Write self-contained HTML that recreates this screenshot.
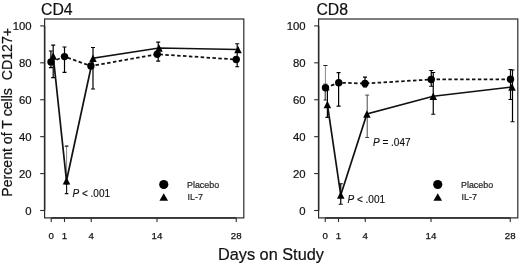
<!DOCTYPE html>
<html><head><meta charset="utf-8"><title>chart</title>
<style>
html,body{margin:0;padding:0;background:#fff;}
body{width:520px;height:265px;overflow:hidden;font-family:"Liberation Sans",sans-serif;}
svg{display:block;font-family:"Liberation Sans",sans-serif;filter:blur(0.4px);}
</style></head><body>
<svg width="520" height="265" viewBox="0 0 520 265">
<rect width="520" height="265" fill="#fff"/>
<g transform="translate(0,0)">
<rect x="44.6" y="19" width="199.2" height="198.9" fill="none" stroke="#2a2a2a" stroke-width="1.2"/>
<path d="M51.25 217.9H236.25M44.6 25.9V210.5" stroke="#2a2a2a" stroke-width="1.5" fill="none"/>
<line x1="40.2" x2="44.5" y1="210.50" y2="210.50" stroke="#2a2a2a" stroke-width="1.1"/>
<text transform="translate(31.6,215.45) scale(1.03,1)" text-anchor="end" font-size="11" fill="#111" stroke="#111" stroke-width="0.2">0</text>
<line x1="40.2" x2="44.5" y1="173.58" y2="173.58" stroke="#2a2a2a" stroke-width="1.1"/>
<text transform="translate(31.6,178.43) scale(1.03,1)" text-anchor="end" font-size="11" fill="#111" stroke="#111" stroke-width="0.2">20</text>
<line x1="40.2" x2="44.5" y1="136.66" y2="136.66" stroke="#2a2a2a" stroke-width="1.1"/>
<text transform="translate(31.6,141.11) scale(1.03,1)" text-anchor="end" font-size="11" fill="#111" stroke="#111" stroke-width="0.2">40</text>
<line x1="40.2" x2="44.5" y1="99.74" y2="99.74" stroke="#2a2a2a" stroke-width="1.1"/>
<text transform="translate(31.6,103.99) scale(1.03,1)" text-anchor="end" font-size="11" fill="#111" stroke="#111" stroke-width="0.2">60</text>
<line x1="40.2" x2="44.5" y1="62.82" y2="62.82" stroke="#2a2a2a" stroke-width="1.1"/>
<text transform="translate(31.6,67.17) scale(1.03,1)" text-anchor="end" font-size="11" fill="#111" stroke="#111" stroke-width="0.2">80</text>
<line x1="40.2" x2="44.5" y1="25.90" y2="25.90" stroke="#2a2a2a" stroke-width="1.1"/>
<text transform="translate(31.6,29.95) scale(1.03,1)" text-anchor="end" font-size="11" fill="#111" stroke="#111" stroke-width="0.2">100</text>
<line x1="51.25" x2="51.25" y1="217.9" y2="222" stroke="#2a2a2a" stroke-width="1.1"/>
<text x="51.25" y="239.4" text-anchor="middle" font-size="9.7" fill="#111" stroke="#111" stroke-width="0.25">0</text>
<line x1="64.5" x2="64.5" y1="217.9" y2="222" stroke="#2a2a2a" stroke-width="1.1"/>
<text x="64.5" y="239.4" text-anchor="middle" font-size="9.7" fill="#111" stroke="#111" stroke-width="0.25">1</text>
<line x1="91.25" x2="91.25" y1="217.9" y2="222" stroke="#2a2a2a" stroke-width="1.1"/>
<text x="91.25" y="239.4" text-anchor="middle" font-size="9.7" fill="#111" stroke="#111" stroke-width="0.25">4</text>
<line x1="157" x2="157" y1="217.9" y2="222" stroke="#2a2a2a" stroke-width="1.1"/>
<text x="157" y="239.4" text-anchor="middle" font-size="9.7" fill="#111" stroke="#111" stroke-width="0.25">14</text>
<line x1="236.25" x2="236.25" y1="217.9" y2="222" stroke="#2a2a2a" stroke-width="1.1"/>
<text x="236.25" y="239.4" text-anchor="middle" font-size="9.7" fill="#111" stroke="#111" stroke-width="0.25">28</text>
<text x="41" y="14.7" font-size="15.8" fill="#111" stroke="#111" stroke-width="0.2">CD4</text>
<path d="M50.90 51.00V67.70M48.90 51.00H52.90M48.90 67.70H52.90" stroke="#000" stroke-width="1.2" fill="none"/>
<path d="M53.20 45.20V77.70M51.20 45.20H55.20M51.20 77.70H55.20" stroke="#000" stroke-width="1.2" fill="none"/>
<path d="M64.50 47.00V72.30M62.50 47.00H66.50M62.50 72.30H66.50" stroke="#000" stroke-width="1.2" fill="none"/>
<path d="M66.60 146.10V178.00M66.60 146.10H66.60M66.60 178.00H66.60" stroke="#666" stroke-width="0.8" fill="none"/>
<path d="M66.60 146.10V146.10M64.80 146.10H68.40M64.80 146.10H68.40" stroke="#111" stroke-width="1.2" fill="none"/>
<path d="M66.60 184.00V193.60M64.80 184.00H68.40M64.80 193.60H68.40" stroke="#111" stroke-width="1.1" fill="none"/>
<path d="M93.00 47.50V89.00M91.00 47.50H95.00M91.00 89.00H95.00" stroke="#000" stroke-width="1.2" fill="none"/>
<path d="M158.20 42.20V61.20M156.20 42.20H160.20M156.20 61.20H160.20" stroke="#000" stroke-width="1.2" fill="none"/>
<path d="M237.20 43.75V66.75M235.20 43.75H239.20M235.20 66.75H239.20" stroke="#000" stroke-width="1.2" fill="none"/>
<polyline points="51.00,61.90 64.50,56.60 90.90,66.00 157.20,54.25 236.25,59.50" fill="none" stroke="#111" stroke-width="1.75" stroke-dasharray="3.5 2.4"/>
<polyline points="53.20,56.00 66.50,180.80 93.00,58.20 159.00,48.00 238.00,49.50" fill="none" stroke="#111" stroke-width="1.7" stroke-linejoin="miter"/>
<circle cx="51.00" cy="61.90" r="3.7" fill="#000"/>
<circle cx="64.50" cy="56.60" r="3.7" fill="#000"/>
<circle cx="90.90" cy="66.00" r="3.7" fill="#000"/>
<circle cx="157.20" cy="54.25" r="3.7" fill="#000"/>
<circle cx="236.25" cy="59.50" r="3.7" fill="#000"/>
<polygon points="53.20,52.25 56.95,59.75 49.45,59.75" fill="#000"/>
<polygon points="66.50,177.05 70.25,184.55 62.75,184.55" fill="#000"/>
<polygon points="93.00,54.45 96.75,61.95 89.25,61.95" fill="#000"/>
<polygon points="159.00,44.25 162.75,51.75 155.25,51.75" fill="#000"/>
<polygon points="238.00,45.75 241.75,53.25 234.25,53.25" fill="#000"/>
<circle cx="163.75" cy="184.50" r="4.6" fill="#000"/>
<polygon points="163.75,193.30 168.05,200.70 159.45,200.70" fill="#000"/>
<text x="187" y="187.6" font-size="8.9" fill="#222" stroke="#222" stroke-width="0.2">Placebo</text>
<text x="187.6" y="200.1" font-size="8.9" fill="#222" stroke="#222" stroke-width="0.2">IL-7</text>
<text x="72.5" y="197.2" font-size="10" fill="#111" stroke="#111" stroke-width="0.15"><tspan font-style="italic">P</tspan> &lt; .001</text>
</g>
<g transform="translate(274,0)">
<rect x="44.6" y="19" width="199.2" height="198.9" fill="none" stroke="#2a2a2a" stroke-width="1.2"/>
<path d="M51.25 217.9H236.25M44.6 25.9V210.5" stroke="#2a2a2a" stroke-width="1.5" fill="none"/>
<line x1="40.2" x2="44.5" y1="210.50" y2="210.50" stroke="#2a2a2a" stroke-width="1.1"/>
<text transform="translate(31.6,215.45) scale(1.03,1)" text-anchor="end" font-size="11" fill="#111" stroke="#111" stroke-width="0.2">0</text>
<line x1="40.2" x2="44.5" y1="173.58" y2="173.58" stroke="#2a2a2a" stroke-width="1.1"/>
<text transform="translate(31.6,178.43) scale(1.03,1)" text-anchor="end" font-size="11" fill="#111" stroke="#111" stroke-width="0.2">20</text>
<line x1="40.2" x2="44.5" y1="136.66" y2="136.66" stroke="#2a2a2a" stroke-width="1.1"/>
<text transform="translate(31.6,141.11) scale(1.03,1)" text-anchor="end" font-size="11" fill="#111" stroke="#111" stroke-width="0.2">40</text>
<line x1="40.2" x2="44.5" y1="99.74" y2="99.74" stroke="#2a2a2a" stroke-width="1.1"/>
<text transform="translate(31.6,103.99) scale(1.03,1)" text-anchor="end" font-size="11" fill="#111" stroke="#111" stroke-width="0.2">60</text>
<line x1="40.2" x2="44.5" y1="62.82" y2="62.82" stroke="#2a2a2a" stroke-width="1.1"/>
<text transform="translate(31.6,67.17) scale(1.03,1)" text-anchor="end" font-size="11" fill="#111" stroke="#111" stroke-width="0.2">80</text>
<line x1="40.2" x2="44.5" y1="25.90" y2="25.90" stroke="#2a2a2a" stroke-width="1.1"/>
<text transform="translate(31.6,29.95) scale(1.03,1)" text-anchor="end" font-size="11" fill="#111" stroke="#111" stroke-width="0.2">100</text>
<line x1="51.25" x2="51.25" y1="217.9" y2="222" stroke="#2a2a2a" stroke-width="1.1"/>
<text x="51.25" y="239.4" text-anchor="middle" font-size="9.7" fill="#111" stroke="#111" stroke-width="0.25">0</text>
<line x1="64.5" x2="64.5" y1="217.9" y2="222" stroke="#2a2a2a" stroke-width="1.1"/>
<text x="64.5" y="239.4" text-anchor="middle" font-size="9.7" fill="#111" stroke="#111" stroke-width="0.25">1</text>
<line x1="91.25" x2="91.25" y1="217.9" y2="222" stroke="#2a2a2a" stroke-width="1.1"/>
<text x="91.25" y="239.4" text-anchor="middle" font-size="9.7" fill="#111" stroke="#111" stroke-width="0.25">4</text>
<line x1="157" x2="157" y1="217.9" y2="222" stroke="#2a2a2a" stroke-width="1.1"/>
<text x="157" y="239.4" text-anchor="middle" font-size="9.7" fill="#111" stroke="#111" stroke-width="0.25">14</text>
<line x1="236.25" x2="236.25" y1="217.9" y2="222" stroke="#2a2a2a" stroke-width="1.1"/>
<text x="236.25" y="239.4" text-anchor="middle" font-size="9.7" fill="#111" stroke="#111" stroke-width="0.25">28</text>
<text x="42.4" y="14.7" font-size="15.8" fill="#111" stroke="#111" stroke-width="0.2">CD8</text>
<path d="M51.40 65.50V84.00M49.40 65.50H53.40M49.40 84.00H53.40" stroke="#666" stroke-width="0.8" fill="none"/>
<path d="M51.40 65.50V65.50M49.40 65.50H53.40M49.40 65.50H53.40" stroke="#222" stroke-width="1.1" fill="none"/>
<path d="M51.20 88.00V100.00M49.60 88.00H52.80M49.60 100.00H52.80" stroke="#222" stroke-width="1.0" fill="none"/>
<path d="M53.40 90.00V117.40M51.40 90.00H55.40M51.40 117.40H55.40" stroke="#000" stroke-width="1.2" fill="none"/>
<path d="M64.60 72.60V106.10M62.60 72.60H66.60M62.60 106.10H66.60" stroke="#000" stroke-width="1.2" fill="none"/>
<path d="M66.75 183.75V204.25M64.75 183.75H68.75M64.75 204.25H68.75" stroke="#000" stroke-width="1.2" fill="none"/>
<path d="M91.00 77.20V87.00M89.00 77.20H93.00M89.00 87.00H93.00" stroke="#000" stroke-width="1.2" fill="none"/>
<path d="M93.20 95.10V137.50M91.20 95.10H95.20M91.20 137.50H95.20" stroke="#333" stroke-width="0.9" fill="none"/>
<path d="M157.25 70.50V86.25M155.25 70.50H159.25M155.25 86.25H159.25" stroke="#000" stroke-width="1.2" fill="none"/>
<path d="M159.25 72.50V114.25M157.25 72.50H161.25M157.25 114.25H161.25" stroke="#000" stroke-width="1.2" fill="none"/>
<path d="M236.50 69.50V99.50M234.50 69.50H238.50M234.50 99.50H238.50" stroke="#000" stroke-width="1.2" fill="none"/>
<path d="M238.50 70.00V121.75M236.50 70.00H240.50M236.50 121.75H240.50" stroke="#000" stroke-width="1.2" fill="none"/>
<polyline points="51.50,87.70 64.75,82.70 91.00,83.50 157.25,79.50 236.50,79.25" fill="none" stroke="#111" stroke-width="1.75" stroke-dasharray="3.5 2.4"/>
<polyline points="53.40,104.40 66.75,195.00 92.90,114.00 159.25,96.25 238.00,87.00" fill="none" stroke="#111" stroke-width="1.7" stroke-linejoin="miter"/>
<circle cx="51.50" cy="87.70" r="3.7" fill="#000"/>
<circle cx="64.75" cy="82.70" r="3.7" fill="#000"/>
<circle cx="91.00" cy="83.50" r="3.7" fill="#000"/>
<circle cx="157.25" cy="79.50" r="3.7" fill="#000"/>
<circle cx="236.50" cy="79.25" r="3.7" fill="#000"/>
<polygon points="53.40,100.65 57.15,108.15 49.65,108.15" fill="#000"/>
<polygon points="66.75,191.25 70.50,198.75 63.00,198.75" fill="#000"/>
<polygon points="92.90,110.25 96.65,117.75 89.15,117.75" fill="#000"/>
<polygon points="159.25,92.50 163.00,100.00 155.50,100.00" fill="#000"/>
<polygon points="238.00,83.25 241.75,90.75 234.25,90.75" fill="#000"/>
<circle cx="163.75" cy="184.50" r="4.6" fill="#000"/>
<polygon points="163.75,193.30 168.05,200.70 159.45,200.70" fill="#000"/>
<text x="187" y="187.6" font-size="8.9" fill="#222" stroke="#222" stroke-width="0.2">Placebo</text>
<text x="187.6" y="200.1" font-size="8.9" fill="#222" stroke="#222" stroke-width="0.2">IL-7</text>
<text x="73.5" y="203.3" font-size="10" fill="#111" stroke="#111" stroke-width="0.15"><tspan font-style="italic">P</tspan> &lt; .001</text>
<text x="99" y="145.9" font-size="10" fill="#111" stroke="#111" stroke-width="0.15"><tspan font-style="italic">P</tspan> = .047</text>
</g>
<text transform="translate(11.7,196.8) rotate(-90)" font-size="14.15" fill="#111" stroke="#111" stroke-width="0.2" xml:space="preserve">Percent of T cells  CD127+</text>
<text x="218" y="260" font-size="16.3" fill="#111" stroke="#111" stroke-width="0.2">Days on Study</text>
</svg>
</body></html>
